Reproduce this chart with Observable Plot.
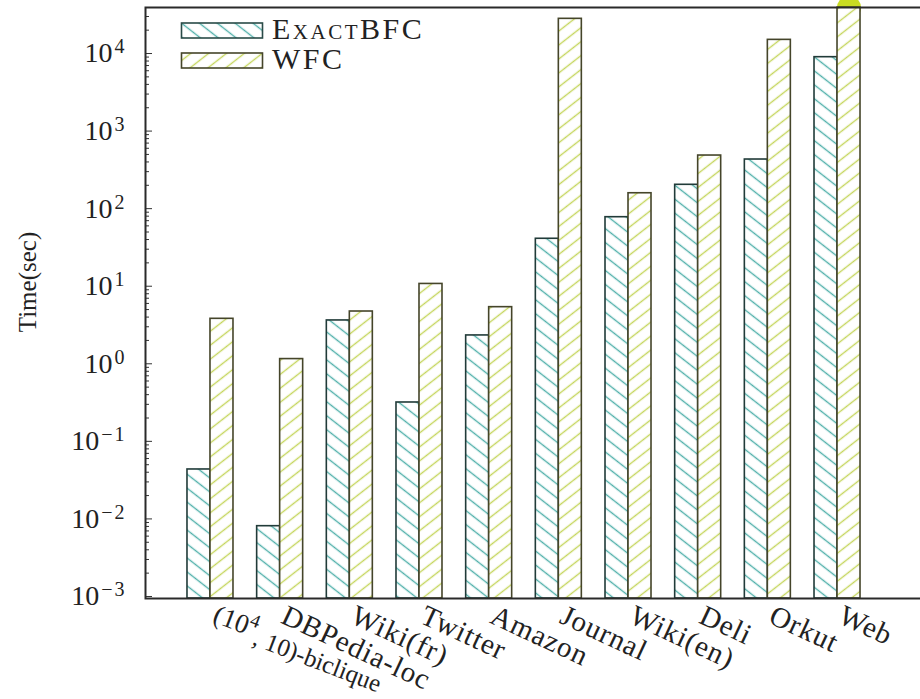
<!DOCTYPE html>
<html><head><meta charset="utf-8">
<script src="https://cdn.jsdelivr.net/npm/d3@7"></script>
<script src="https://cdn.jsdelivr.net/npm/@observablehq/plot@0.6"></script>
<style>
html,body{margin:0;padding:0;overflow:hidden;background:#fff;}
#chart{position:relative;width:920px;height:699px;overflow:hidden;}
#chart svg{max-width:none !important;}
</style></head><body><div id="chart"></div>
<script>
const categories = ["(10⁴, 10)-biclique","DBPedia-loc","Wiki(fr)","Twitter","Amazon","Journal","Wiki(en)","Deli","Orkut","Web"];
const exactBFC = [0.0434, 0.00806, 3.62, 0.317, 2.32, 40.9, 77.6, 203, 430, 8970];
const wfc = [3.8, 1.15, 4.72, 10.7, 5.37, 28000, 158, 484, 15000, 39000];
const seriesNames = ["ExactBFC", "WFC"];
const markedBars = ["Web"];
const yMajorTicks = [1e-3, 1e-2, 1e-1, 1e0, 1e1, 1e2, 1e3, 1e4];
const yTickLabels = ["10^−3", "10^−2", "10^−1", "10^0", "10^1", "10^2", "10^3", "10^4"];
const yDomain = [9.42e-4, 3.92e4];

const rows = categories.flatMap((c, i) => [
  {cat: c, series: seriesNames[0], value: exactBFC[i]},
  {cat: c, series: seriesNames[1], value: wfc[i]}
]);
const minorTicks = yMajorTicks.flatMap(d => [2,3,4,5,6,7,8,9].map(m => m * d)).filter(v => v <= yDomain[1]);

const bw = 23, half = 69.67 / 2;
const chart = Plot.plot({
  width: 926, height: 699,
  marginLeft: 145, marginRight: 0, marginTop: 7, marginBottom: 101,
  style: {fontFamily: "'Liberation Serif', serif", fontSize: "24px", color: "#222", background: "#fff", maxWidth: "none"},
  x: {type: "band", domain: categories, range: [175.15, 871.85], padding: 0, round: false},
  y: {type: "log", domain: yDomain},
  marks: [
    Plot.dot(rows.filter(d => d.series === "WFC" && markedBars.includes(d.cat)), {x: "cat", y: "value", r: 12, fill: "#c9dc22", dx: bw / 2}),
    Plot.barY(rows.filter(d => d.series === "ExactBFC"), {x: "cat", y1: yDomain[0], y2: "value", fill: "url(#hatchTeal)", stroke: "#213b39", strokeWidth: 1.6, insetLeft: half - bw, insetRight: half}),
    Plot.barY(rows.filter(d => d.series === "WFC"), {x: "cat", y1: yDomain[0], y2: "value", fill: "url(#hatchWfc)", stroke: "#45452a", strokeWidth: 1.6, insetLeft: half, insetRight: half - bw}),
    Plot.axisY(minorTicks, {anchor: "left", tickSize: -4, tickFormat: () => "", stroke: "#333", label: null}),
    Plot.axisY(yMajorTicks, {anchor: "left", tickSize: -7, tickFormat: () => "", stroke: "#333", label: null}),
    Plot.axisY(yMajorTicks, {anchor: "left", tickSize: 0, tickPadding: 19, fontSize: 28, label: null, tickFormat: (d) => yTickLabels[yMajorTicks.indexOf(d)]}),
    Plot.axisX({anchor: "bottom", tickSize: 0, tickPadding: 5, dx: 8, tickRotate: 25, textAnchor: "start", lineAnchor: "top", fontSize: 29, label: null}),
    Plot.text(["Time(sec)"], {text: d => d, frameAnchor: "left", textAnchor: "middle", dx: -118, dy: -21, rotate: -90, fontSize: 25, fill: "#222"}),
    Plot.frame({stroke: "#2a2a2a", strokeWidth: 2})
  ]
});
chart.style.maxWidth = "none";
document.getElementById("chart").appendChild(chart);

const svg = d3.select(chart);
const defs = svg.insert("defs", ":first-child");
function hatch(id, color, angle) {
  const s = 11;
  const p = defs.append("pattern").attr("id", id).attr("patternUnits", "userSpaceOnUse")
    .attr("width", s).attr("height", s).attr("patternTransform", `rotate(${angle})`);
  p.append("rect").attr("width", s).attr("height", s).attr("fill", "#fff");
  p.append("line").attr("x1", -1).attr("y1", s / 2).attr("x2", s + 1).attr("y2", s / 2).attr("stroke", color).attr("stroke-width", 1.4);
}
hatch("hatchTeal", "#50b0aa", 38);
hatch("hatchWfc", "#c5d65c", -38);

// superscripts on y tick labels
svg.selectAll('g[aria-label="y-axis tick label"] text').each(function () {
  const t = this.textContent;
  if (!t.includes("^")) return;
  const [base, exp] = t.split("^");
  const sel = d3.select(this);
  sel.text(null);
  sel.append("tspan").text(base);
  sel.append("tspan").attr("dy", "-0.45em").attr("dx", 2).attr("font-size", "20px").style("letter-spacing", "2px").text(exp);
});
// x tick labels: slightly wider spacing, biclique superscript
svg.selectAll('g[aria-label="x-axis tick label"]').style("letter-spacing", "1px");
svg.selectAll('g[aria-label="x-axis tick label"] text').each(function () {
  if (this.textContent !== categories[0]) return;
  const sel = d3.select(this);
  const tr = sel.attr("transform");
  if (tr) sel.attr("transform", tr.replace(/rotate\([^)]*\)/, "rotate(21)"));
  sel.text(null).attr("font-size", "27px").style("letter-spacing", "0px");
  sel.append("tspan").text("(10");
  sel.append("tspan").attr("dy", "-10").attr("font-size", "19px").text("4");
  sel.append("tspan").attr("dy", "17").attr("font-size", "25px").text(", 10)-biclique");
});

// legend
const lg = svg.append("g").attr("font-family", "'Liberation Serif', serif").attr("fill", "#222").attr("text-anchor", "start");
[["ExactBFC", "url(#hatchTeal)", "#2a4b48", 23], ["WFC", "url(#hatchWfc)", "#45452a", 53]].forEach(([name, fill, stroke, y]) => {
  lg.append("rect").attr("x", 181.5).attr("y", y).attr("width", 81).attr("height", 15).attr("fill", fill).attr("stroke", stroke).attr("stroke-width", 1.6);
  lg.append("text").attr("x", 272).attr("y", y + 16).attr("font-size", "30px").style("letter-spacing", "2.5px").style("font-variant", "small-caps").text(name);
});
</script></body></html>
